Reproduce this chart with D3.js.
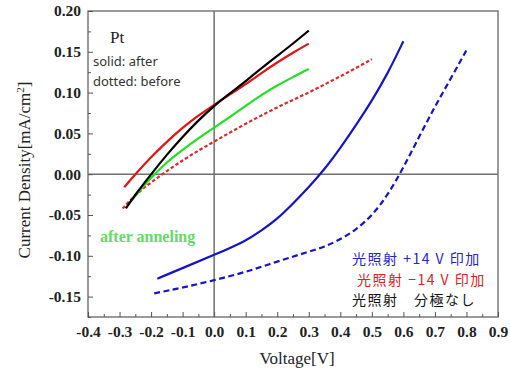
<!DOCTYPE html>
<html>
<head>
<meta charset="utf-8">
<script src="https://cdn.jsdelivr.net/npm/d3@7"></script>
<style>
  html, body { margin: 0; padding: 0; background: #fff; }
  svg { display: block; }
</style>
</head>
<body>
<svg id="chart" width="510" height="371"></svg>
<script>
// ---- data ----
const xTicks = [-0.4, -0.3, -0.2, -0.1, 0.0, 0.1, 0.2, 0.3, 0.4, 0.5, 0.6, 0.7, 0.8, 0.9];
const yTicks = [-0.15, -0.10, -0.05, 0.00, 0.05, 0.10, 0.15, 0.20];

const blackV = [-0.28, -0.25, -0.2, -0.15, -0.1, -0.05, 0, 0.05, 0.1, 0.15, 0.2, 0.25, 0.3];
const blackJ = [-0.042, -0.025, 0.0, 0.024, 0.046, 0.066, 0.084, 0.099, 0.114, 0.130, 0.145, 0.160, 0.176];

const redV = [-0.285, -0.25, -0.2, -0.15, -0.1, -0.05, 0, 0.05, 0.1, 0.15, 0.2, 0.25, 0.3];
const redJ = [-0.016, 0.0, 0.021, 0.040, 0.057, 0.072, 0.085, 0.098, 0.110, 0.124, 0.137, 0.149, 0.160];

const greenV = [-0.26, -0.2, -0.15, -0.1, -0.05, 0, 0.05, 0.1, 0.15, 0.2, 0.25, 0.3];
const greenJ = [-0.031, -0.004, 0.015, 0.030, 0.044, 0.057, 0.070, 0.084, 0.097, 0.109, 0.119, 0.129];

const redDotV = [-0.29, -0.25, -0.2, -0.15, -0.1, -0.05, 0, 0.05, 0.1, 0.15, 0.2, 0.25, 0.3, 0.35, 0.4, 0.45, 0.5];
const redDotJ = [-0.042, -0.025, -0.010, 0.004, 0.017, 0.029, 0.040, 0.051, 0.062, 0.072, 0.082, 0.091, 0.100, 0.110, 0.120, 0.130, 0.141];

const blueV = [-0.18, -0.1, 0, 0.1, 0.15, 0.2, 0.25, 0.3, 0.35, 0.4, 0.45, 0.5, 0.55, 0.6];
const blueJ = [-0.128, -0.115, -0.099, -0.082, -0.069, -0.055, -0.036, -0.016, 0.006, 0.032, 0.060, 0.090, 0.123, 0.163];

const blueDotV = [-0.19, -0.1, 0, 0.1, 0.2, 0.3, 0.35, 0.4, 0.45, 0.5, 0.55, 0.6, 0.65, 0.7, 0.75, 0.8];
const blueDotJ = [-0.146, -0.139, -0.130, -0.120, -0.107, -0.095, -0.089, -0.080, -0.068, -0.051, -0.026, 0.008, 0.046, 0.083, 0.117, 0.152];

const series = [
  { v: redDotV,  j: redDotJ,  color: "#e02828", dash: "3.5,2.2" },
  { v: greenV,   j: greenJ,   color: "#22e022", dash: null },
  { v: redV,     j: redJ,     color: "#e01515", dash: null },
  { v: blackV,   j: blackJ,   color: "#000000", dash: null },
  { v: blueV,    j: blueJ,    color: "#1414c8", dash: null },
  { v: blueDotV, j: blueDotJ, color: "#1414c8", dash: "6,3.5" }
];

const legend = [
  { text: "光照射 +14 V 印加", color: "#2424c8" },
  { text: "光照射 −14 V 印加", color: "#e02020" },
  { text: "光照射　分極なし", color: "#111111" }
];

// ---- layout ----
const svg = d3.select("#chart");
const L = 88, R = 498, T = 11, B = 317;
const x = d3.scaleLinear().domain([-0.4, 0.9]).range([L, R]);
const y = d3.scaleLinear().domain([-0.175, 0.2]).range([B, T]);

const frameColor = "#7a7a7a";

// zero lines
svg.append("line").attr("x1", x(0)).attr("x2", x(0)).attr("y1", T).attr("y2", B)
  .attr("stroke", "#707070").attr("stroke-width", 1.5);
svg.append("line").attr("x1", L).attr("x2", R).attr("y1", y(0)).attr("y2", y(0))
  .attr("stroke", "#707070").attr("stroke-width", 1.5);

// curves
const line = d3.line().curve(d3.curveBasis);
series.forEach(s => {
  const pts = s.v.map((v, i) => [x(v), y(s.j[i])]);
  svg.append("path").attr("d", line(pts)).attr("fill", "none")
    .attr("stroke", s.color).attr("stroke-width", 2.2)
    .attr("stroke-dasharray", s.dash);
});

// frame
svg.append("rect").attr("x", L).attr("y", T).attr("width", R - L).attr("height", B - T)
  .attr("fill", "none").attr("stroke", frameColor).attr("stroke-width", 1.5);

// axes
const tickFont = "'Liberation Serif', 'Times New Roman', serif";
const xAxis = d3.axisBottom(x).tickValues(xTicks).tickSize(-5).tickPadding(9)
  .tickFormat(d => d.toFixed(1));
svg.append("g").attr("transform", `translate(0,${B})`).call(xAxis);
const xMinor = d3.axisBottom(x).tickValues(d3.range(-0.35, 0.9, 0.1)).tickSize(-3).tickFormat("");
svg.append("g").attr("transform", `translate(0,${B})`).call(xMinor);

const yAxis = d3.axisLeft(y).tickValues(yTicks).tickSize(-5).tickPadding(7)
  .tickFormat(d => d.toFixed(2));
svg.append("g").attr("transform", `translate(${L},0)`).call(yAxis);
const yMinor = d3.axisLeft(y).tickValues(d3.range(-0.175, 0.2, 0.05)).tickSize(-3).tickFormat("");
svg.append("g").attr("transform", `translate(${L},0)`).call(yMinor);

svg.selectAll(".domain").remove();
svg.selectAll(".tick line").attr("stroke", "#555").attr("stroke-width", 1);
svg.selectAll(".tick text").attr("font-family", tickFont).attr("font-weight", "bold")
  .attr("font-size", 15.5).attr("fill", "#222");

// axis titles
svg.append("text").attr("x", 297).attr("y", 364).attr("text-anchor", "middle")
  .attr("font-family", tickFont).attr("font-size", 17).attr("fill", "#222")
  .text("Voltage[V]");
const yt = svg.append("text").attr("transform", "translate(30,170) rotate(-90)")
  .attr("text-anchor", "middle").attr("font-family", tickFont).attr("font-size", 17)
  .attr("fill", "#222");
yt.append("tspan").text("Current Density[mA/cm");
yt.append("tspan").attr("font-size", 11).attr("dy", -6).text("2");
yt.append("tspan").attr("dy", 6).text("]");

// annotations
svg.append("text").attr("x", 110).attr("y", 43).attr("font-family", tickFont)
  .attr("font-size", 17).attr("fill", "#222").text("Pt");
svg.append("text").attr("x", 93).attr("y", 66).attr("font-family", "'Noto Sans', sans-serif")
  .attr("font-size", 13).attr("fill", "#333").text("solid: after");
svg.append("text").attr("x", 93).attr("y", 86).attr("font-family", "'Noto Sans', sans-serif")
  .attr("font-size", 13).attr("fill", "#333").text("dotted: before");
svg.append("text").attr("x", 100).attr("y", 242).attr("font-family", tickFont)
  .attr("font-weight", "bold").attr("font-size", 16).attr("fill", "#62dc62").text("after anneling");

const legX = [352, 357, 352];
const legY = [264, 285, 305];
legend.forEach((d, i) => {
  svg.append("text").attr("x", legX[i]).attr("y", legY[i])
    .attr("font-family", "'Noto Sans CJK JP', 'Noto Sans CJK SC', sans-serif")
    .attr("font-size", 14).attr("letter-spacing", 1.5).attr("fill", d.color).text(d.text);
});
</script>
</body>
</html>
